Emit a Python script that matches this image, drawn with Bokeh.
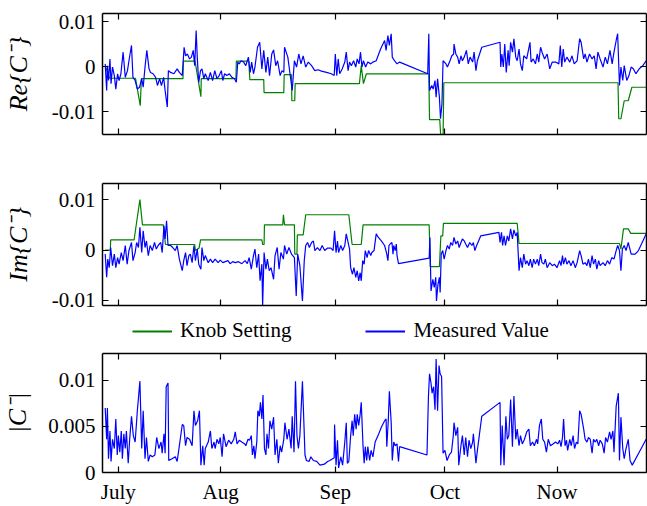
from bokeh.plotting import figure
from bokeh.models import Range1d, FixedTicker, LinearAxis, Legend, LegendItem
from bokeh.layouts import column
from bokeh.embed import file_html
from bokeh.resources import INLINE

# ---------------- data (x = days, y = value) ----------------
month_ticks = [3.0, 31.0, 62.4, 92.4, 123.1]
month_labels = ["July", "Aug", "Sep", "Oct", "Now"]

re_ticks = [-0.01, 0.0, 0.01]
re_tick_labels = ["-0.01", "0", "0.01"]
im_ticks = [-0.01, 0.0, 0.01]
im_tick_labels = ["-0.01", "0", "0.01"]
abs_ticks = [0.0, 0.005, 0.01]
abs_tick_labels = ["0", "0.005", "0.01"]

re_knob = [(-0.5, 0.0), (0.6, -0.0026), (7.7, -0.0026), (9.0, -0.0087), (9.3, -0.0027), (20.7, -0.0027),
           (20.8, 0.0012), (24.0, 0.0012), (25.6, -0.0067), (25.7, -0.0027), (35.2, -0.0027), (35.3, 0.0012),
           (38.7, 0.0012), (39.0, -0.0029), (42.8, -0.0029), (42.9, -0.0058), (48.3, -0.0058), (48.4, -0.0018),
           (50.4, -0.0018), (50.5, -0.0076), (51.3, -0.0076), (51.4, -0.0038), (69.0, -0.0038), (69.5, 0.0002),
           (70.1, -0.0038), (70.9, -0.0016), (88.0, -0.0016), (88.2, -0.0118), (91.0, -0.0118), (91.3, -0.016),
           (91.9, -0.016), (92.1, -0.0036), (139.8, -0.0036), (140.0, -0.0116), (140.6, -0.0116), (141.5, -0.0076),
           (142.6, -0.0076), (143.6, -0.0046), (147.5, -0.0046)]

re_measured = [(-0.6, 0.0006), (-0.2, -0.0053), (0.0, 0.0002), (0.3, -0.0031), (0.7, 0.0017), (1.0, -0.0038), (1.4, -0.0001), (1.9, -0.0020), (2.3, -0.0050), (2.8, -0.0016), (3.2, -0.0031), (3.7, -0.0016), (4.3, 0.0032), (4.9, -0.0024), (5.5, -0.0009), (5.9, 0.0013), (6.6, 0.0047), (7.0, -0.0024), (7.6, -0.0031), (8.2, -0.0050), (8.8, -0.0046), (9.4, -0.0027), (9.8, -0.0046), (10.3, -0.0001), (10.8, 0.0036), (11.4, -0.0005), (11.8, -0.0013), (12.5, -0.0016), (13.2, -0.0024), (13.7, -0.0042), (14.3, -0.0027), (14.8, -0.0042), (15.4, -0.0024), (15.8, -0.0053), (16.4, -0.0090), (16.7, -0.0009), (17.3, -0.0013), (18.2, -0.0016), (19.1, -0.0005), (19.7, -0.0013), (20.5, -0.0020), (21.0, 0.0043), (21.4, 0.0024), (21.9, 0.0028), (22.5, 0.0017), (23.0, 0.0021), (23.5, 0.0036), (23.9, 0.0002), (24.3, 0.0080), (24.6, 0.0021), (25.0, -0.0035), (25.5, -0.0009), (25.9, -0.0005), (26.4, -0.0027), (26.8, -0.0016), (27.6, -0.0031), (28.2, -0.0013), (28.8, -0.0031), (29.4, -0.0009), (30.0, -0.0027), (30.6, -0.0020), (31.2, -0.0009), (31.6, -0.0031), (32.1, -0.0016), (32.7, -0.0020), (33.4, -0.0016), (34.1, -0.0024), (34.8, -0.0027), (35.3, -0.0035), (35.7, 0.0010), (36.1, 0.0006), (36.6, 0.0013), (37.3, 0.0010), (37.9, 0.0002), (38.6, 0.0021), (39.1, -0.0013), (39.5, 0.0010), (40.0, -0.0016), (40.4, -0.0001), (41.1, 0.0043), (41.7, 0.0054), (42.3, -0.0005), (42.8, 0.0036), (43.4, -0.0013), (43.9, 0.0021), (44.4, -0.0020), (45.0, 0.0028), (45.5, 0.0037), (46.1, 0.0002), (46.6, 0.0013), (47.3, -0.0020), (47.8, -0.0009), (48.3, -0.0013), (48.5, 0.0043), (49.4, 0.0021), (50.0, -0.0016), (50.6, -0.0053), (51.2, 0.0013), (51.8, -0.0001), (52.4, 0.0028), (53.0, 0.0006), (53.6, 0.0024), (54.3, -0.0001), (55.0, 0.0010), (55.9, 0.0002), (56.8, -0.0009), (57.7, -0.0007), (58.6, -0.0010), (60.0, -0.0013), (61.3, -0.0016), (62.1, -0.0020), (62.4, 0.0028), (62.8, -0.0020), (63.2, 0.0017), (63.6, -0.0016), (64.3, -0.0005), (65.0, 0.0010), (65.4, 0.0032), (65.9, -0.0009), (66.3, 0.0010), (66.8, 0.0002), (67.4, 0.0013), (68.0, -0.0001), (68.4, 0.0017), (68.9, 0.0006), (69.3, 0.0032), (69.7, -0.0001), (70.1, 0.0013), (70.7, -0.0001), (71.3, 0.0010), (72.1, 0.0006), (72.7, 0.0010), (73.6, 0.0013), (74.8, 0.0039), (75.9, 0.0058), (76.3, 0.0036), (76.8, 0.0069), (77.2, 0.0047), (77.7, 0.0073), (78.0, 0.0021), (78.6, 0.0013), (79.3, 0.0006), (80.0, 0.0010), (87.7, -0.0016), (88.0, 0.0073), (88.2, -0.0053), (88.8, -0.0042), (89.2, -0.0050), (89.7, -0.0031), (90.0, -0.0068), (90.4, -0.0027), (90.9, -0.0068), (91.2, -0.0116), (91.6, -0.0083), (91.9, 0.0013), (92.7, 0.0006), (93.1, -0.0001), (93.8, 0.0013), (94.3, 0.0024), (94.8, 0.0028), (94.9, 0.0050), (95.4, 0.0028), (95.9, 0.0021), (96.3, 0.0006), (96.8, 0.0024), (97.2, 0.0013), (97.7, 0.0021), (98.3, 0.0036), (98.8, 0.0006), (99.3, 0.0021), (100.0, 0.0010), (100.4, 0.0032), (100.9, -0.0009), (101.3, 0.0013), (102.5, 0.0043), (107.5, 0.0054), (107.7, -0.0001), (108.0, 0.0028), (108.4, -0.0001), (108.8, 0.0050), (109.2, -0.0013), (109.7, 0.0036), (110.0, 0.0002), (110.4, 0.0054), (110.9, 0.0032), (111.3, 0.0062), (111.8, 0.0021), (112.2, 0.0013), (112.7, 0.0039), (113.1, 0.0006), (113.6, -0.0009), (114.0, 0.0024), (114.8, 0.0017), (115.7, 0.0054), (116.0, 0.0010), (116.6, 0.0017), (117.2, 0.0006), (117.7, 0.0028), (118.1, 0.0010), (118.6, 0.0043), (119.0, 0.0032), (119.7, 0.0017), (120.4, 0.0028), (121.1, -0.0005), (121.8, 0.0010), (122.7, 0.0010), (123.6, 0.0006), (124.0, 0.0047), (124.4, -0.0001), (124.8, 0.0039), (125.2, 0.0010), (125.8, 0.0021), (126.6, 0.0010), (127.2, 0.0024), (127.8, 0.0006), (128.6, 0.0013), (129.3, 0.0062), (129.7, 0.0054), (130.4, 0.0017), (130.8, 0.0028), (131.3, 0.0010), (132.0, 0.0028), (132.7, 0.0017), (133.3, 0.0024), (133.8, -0.0005), (134.3, 0.0032), (134.9, 0.0017), (135.7, -0.0001), (136.3, 0.0021), (136.9, 0.0006), (137.6, 0.0036), (138.2, 0.0006), (138.7, 0.0032), (139.3, 0.0058), (139.7, 0.0073), (140.2, -0.0042), (140.6, -0.0001), (141.1, -0.0031), (141.5, 0.0002), (142.2, -0.0031), (142.8, -0.0020), (143.4, -0.0001), (144.0, -0.0005), (144.7, -0.0016), (145.6, -0.0005), (146.6, 0.0002), (147.5, 0.0013)]

im_knob = [(-0.6, 0.0), (0.8, 0.0), (0.9, 0.0020), (7.3, 0.0020), (8.9, 0.0100), (9.6, 0.0050), (15.3, 0.0050),
           (15.9, 0.0011), (23.9, 0.0011), (24.1, -0.0001), (25.1, 0.0004), (25.5, 0.0020), (42.3, 0.0020),
           (42.5, 0.0011), (42.9, 0.0011), (43.0, 0.0050), (48.0, 0.0050), (48.2, 0.0070), (48.5, 0.0050),
           (51.2, 0.0050), (51.3, -0.0008), (51.9, -0.0008), (52.0, 0.0030), (53.6, 0.0030), (54.3, 0.0070),
           (66.1, 0.0070), (67.0, 0.0011), (69.5, 0.0011), (70.0, 0.0050), (88.1, 0.0050), (88.4, -0.0033),
           (90.9, -0.0033), (91.3, 0.0028), (91.8, 0.0028), (92.0, 0.0053), (112.2, 0.0053), (112.7, 0.0013),
           (140.2, 0.0013), (140.6, 0.0002), (141.3, 0.0042), (142.6, 0.0042), (143.3, 0.0033), (147.5, 0.0033)]

im_measured = [(-0.6, -0.0008), (-0.2, -0.0054), (0.1, -0.0018), (0.5, -0.0035), (0.9, 0.0005), (1.4, -0.0031), (1.9, -0.0008), (2.3, -0.0035), (2.8, -0.0015), (3.2, -0.0028), (3.8, -0.0005), (4.3, -0.0021), (4.9, 0.0009), (5.4, -0.0028), (5.9, -0.0001), (6.6, 0.0015), (7.0, -0.0021), (7.6, -0.0005), (8.0, 0.0015), (8.5, 0.0005), (8.9, 0.0045), (9.4, -0.0005), (9.8, 0.0038), (10.3, 0.0005), (10.7, 0.0018), (11.2, -0.0011), (11.7, 0.0009), (12.3, -0.0001), (12.9, 0.0015), (13.4, 0.0002), (13.9, 0.0009), (14.6, 0.0015), (15.0, -0.0005), (15.5, 0.0048), (15.8, 0.0022), (16.2, 0.0058), (16.6, 0.0009), (17.3, 0.0009), (17.9, 0.0005), (18.6, -0.0001), (19.1, 0.0009), (19.7, -0.0018), (20.5, -0.0041), (20.9, -0.0021), (21.4, -0.0005), (21.8, -0.0031), (22.3, -0.0011), (22.7, -0.0008), (23.2, -0.0025), (23.7, 0.0009), (24.1, -0.0021), (24.6, 0.0002), (25.0, -0.0028), (25.6, -0.0038), (25.9, 0.0005), (26.4, -0.0021), (26.8, -0.0011), (27.6, -0.0025), (28.2, -0.0018), (28.8, -0.0025), (29.5, -0.0018), (30.3, -0.0025), (30.9, -0.0020), (31.6, -0.0025), (32.3, -0.0023), (33.0, -0.0021), (33.6, -0.0027), (34.3, -0.0023), (35.0, -0.0025), (35.9, -0.0023), (36.8, -0.0027), (37.7, -0.0021), (38.3, -0.0027), (38.8, -0.0015), (39.4, -0.0038), (40.0, -0.0011), (40.4, 0.0002), (40.9, -0.0035), (41.4, -0.0008), (41.8, -0.0061), (42.3, -0.0028), (42.5, -0.0111), (42.9, -0.0005), (43.4, -0.0038), (43.8, -0.0018), (44.3, -0.0041), (44.8, -0.0035), (45.5, -0.0058), (45.9, -0.0011), (46.5, 0.0005), (47.0, -0.0038), (47.5, -0.0005), (48.2, -0.0018), (48.5, 0.0009), (49.1, -0.0008), (49.7, 0.0005), (50.4, -0.0008), (51.2, -0.0015), (51.7, -0.0091), (52.1, -0.0008), (52.7, -0.0031), (53.4, -0.0101), (53.9, -0.0021), (54.3, 0.0009), (54.8, 0.0015), (55.3, 0.0005), (55.9, 0.0015), (56.4, 0.0018), (56.8, -0.0001), (57.5, 0.0005), (58.2, -0.0001), (58.8, 0.0009), (59.5, -0.0001), (60.3, 0.0004), (61.2, 0.0004), (61.8, -0.0001), (62.2, 0.0038), (62.6, -0.0005), (63.0, 0.0018), (63.3, -0.0005), (63.9, 0.0009), (64.4, -0.0001), (65.0, 0.0009), (65.4, 0.0032), (65.9, 0.0015), (66.3, 0.0002), (66.6, -0.0035), (67.1, -0.0048), (67.5, -0.0035), (68.0, -0.0054), (68.4, -0.0041), (68.8, -0.0061), (69.2, -0.0045), (69.5, -0.0061), (69.9, -0.0021), (70.3, -0.0028), (70.6, -0.0001), (71.1, -0.0015), (71.5, -0.0001), (72.1, -0.0011), (72.4, -0.0005), (73.0, -0.0001), (73.6, 0.0032), (74.2, 0.0025), (75.0, 0.0018), (75.9, 0.0009), (76.5, -0.0008), (76.8, -0.0021), (77.1, 0.0009), (77.4, 0.0012), (77.9, 0.0015), (78.2, -0.0008), (78.4, 0.0009), (78.8, -0.0001), (79.1, 0.0012), (79.3, -0.0011), (79.7, -0.0027), (88.1, -0.0016), (88.3, 0.0025), (88.6, -0.0081), (89.1, -0.0058), (89.5, -0.0074), (89.9, -0.0054), (90.1, -0.0101), (90.5, -0.0068), (90.9, -0.0054), (91.1, -0.0084), (91.4, -0.0008), (91.8, -0.0001), (92.2, -0.0018), (92.7, -0.0001), (93.1, 0.0009), (93.6, 0.0002), (94.0, 0.0015), (94.5, 0.0009), (94.9, 0.0025), (95.4, 0.0012), (95.9, 0.0018), (96.3, 0.0005), (96.8, 0.0015), (97.2, 0.0022), (97.7, 0.0018), (98.1, 0.0012), (98.6, 0.0005), (99.2, 0.0015), (99.8, 0.0009), (100.2, 0.0015), (100.6, -0.0001), (101.1, 0.0009), (102.2, 0.0028), (107.2, 0.0035), (107.5, 0.0015), (107.9, 0.0035), (108.2, 0.0009), (108.6, 0.0028), (109.0, 0.0009), (109.5, 0.0028), (109.9, 0.0018), (110.4, 0.0042), (110.9, 0.0022), (111.3, 0.0040), (111.8, 0.0028), (112.2, 0.0035), (112.7, -0.0041), (113.1, -0.0015), (113.6, -0.0035), (114.0, -0.0008), (114.5, -0.0028), (114.9, -0.0021), (115.4, -0.0031), (115.8, -0.0018), (116.3, -0.0035), (116.7, -0.0018), (117.2, -0.0028), (117.7, -0.0018), (118.1, -0.0031), (118.6, -0.0008), (119.0, -0.0025), (119.5, -0.0028), (119.9, -0.0018), (120.4, -0.0035), (121.1, -0.0025), (121.8, -0.0031), (122.4, -0.0028), (123.1, -0.0035), (123.8, -0.0021), (124.2, -0.0031), (124.6, -0.0011), (124.9, -0.0028), (125.4, -0.0015), (125.8, -0.0028), (126.4, -0.0021), (126.9, -0.0031), (127.5, -0.0021), (128.1, -0.0035), (128.6, -0.0025), (129.3, -0.0001), (129.7, -0.0011), (130.2, -0.0028), (130.8, -0.0025), (131.3, -0.0031), (131.7, -0.0018), (132.2, -0.0035), (132.7, -0.0011), (133.1, -0.0028), (133.6, -0.0018), (134.0, -0.0038), (134.5, -0.0021), (134.9, -0.0031), (135.7, -0.0025), (136.3, -0.0031), (136.9, -0.0021), (137.5, -0.0028), (138.1, -0.0015), (138.7, -0.0018), (139.3, -0.0001), (139.7, 0.0009), (140.2, -0.0001), (140.6, -0.0041), (141.0, 0.0002), (141.5, 0.0009), (142.0, -0.0001), (142.6, 0.0015), (143.4, -0.0008), (144.5, -0.0008), (145.4, -0.0001), (147.5, 0.0032)]

abs_measured = [(-0.6, 0.0070), (-0.2, 0.0036), (0.0, 0.0070), (0.3, 0.0015), (0.7, 0.0045), (1.0, 0.0012), (1.4, 0.0036), (1.9, 0.0026), (2.3, 0.0058), (2.7, 0.0019), (3.0, 0.0040), (3.4, 0.0022), (3.8, 0.0045), (4.1, 0.0015), (4.5, 0.0042), (4.9, 0.0026), (5.2, 0.0045), (5.7, 0.0010), (6.1, 0.0036), (6.6, 0.0061), (7.1, 0.0040), (7.6, 0.0033), (8.2, 0.0067), (8.9, 0.0099), (9.4, 0.0026), (9.8, 0.0067), (10.3, 0.0015), (10.7, 0.0038), (11.2, 0.0012), (11.7, 0.0019), (12.3, 0.0017), (13.0, 0.0019), (13.5, 0.0038), (14.1, 0.0026), (14.7, 0.0033), (15.0, 0.0021), (15.5, 0.0042), (15.8, 0.0021), (16.1, 0.0093), (16.6, 0.0097), (16.8, 0.0013), (17.7, 0.0015), (18.6, 0.0017), (19.1, 0.0012), (19.7, 0.0029), (20.5, 0.0052), (20.9, 0.0051), (21.4, 0.0029), (21.8, 0.0038), (22.5, 0.0036), (23.2, 0.0029), (23.7, 0.0067), (24.1, 0.0051), (24.7, 0.0056), (25.2, 0.0067), (25.6, 0.0008), (26.1, 0.0029), (26.5, 0.0008), (26.8, 0.0026), (27.6, 0.0033), (28.2, 0.0045), (28.6, 0.0026), (29.2, 0.0033), (29.5, 0.0026), (30.0, 0.0036), (30.5, 0.0031), (30.9, 0.0038), (31.4, 0.0017), (31.8, 0.0042), (32.5, 0.0028), (33.2, 0.0035), (33.9, 0.0031), (34.6, 0.0036), (35.0, 0.0044), (35.5, 0.0031), (36.1, 0.0035), (36.8, 0.0033), (37.6, 0.0031), (37.9, 0.0029), (38.5, 0.0036), (38.9, 0.0035), (39.4, 0.0040), (39.7, 0.0019), (40.1, 0.0029), (40.4, 0.0015), (40.9, 0.0033), (41.2, 0.0067), (41.6, 0.0061), (41.9, 0.0076), (42.3, 0.0058), (42.6, 0.0084), (43.0, 0.0026), (43.4, 0.0019), (43.7, 0.0042), (44.1, 0.0026), (44.5, 0.0056), (45.0, 0.0047), (45.5, 0.0060), (45.9, 0.0019), (46.4, 0.0036), (46.8, 0.0010), (47.3, 0.0029), (47.7, 0.0022), (48.3, 0.0036), (48.6, 0.0054), (49.2, 0.0036), (49.7, 0.0047), (50.3, 0.0026), (50.6, 0.0061), (51.1, 0.0022), (51.5, 0.0099), (51.9, 0.0040), (52.3, 0.0026), (52.7, 0.0040), (53.4, 0.0099), (54.1, 0.0019), (54.5, 0.0013), (55.2, 0.0012), (55.7, 0.0017), (56.4, 0.0013), (57.3, 0.0012), (58.2, 0.0008), (59.4, 0.0009), (60.3, 0.0012), (60.9, 0.0013), (62.1, 0.0016), (62.2, 0.0052), (62.6, 0.0008), (63.0, 0.0035), (63.3, 0.0005), (63.9, 0.0017), (64.4, 0.0008), (65.0, 0.0033), (65.4, 0.0054), (65.7, 0.0010), (66.1, 0.0012), (66.6, 0.0040), (67.0, 0.0056), (67.3, 0.0040), (67.7, 0.0063), (68.1, 0.0047), (68.4, 0.0063), (68.8, 0.0051), (69.2, 0.0063), (69.5, 0.0076), (70.0, 0.0028), (70.3, 0.0010), (70.6, 0.0028), (71.0, 0.0013), (71.3, 0.0028), (71.8, 0.0013), (72.2, 0.0024), (72.7, 0.0017), (73.3, 0.0033), (74.1, 0.0040), (75.0, 0.0049), (75.9, 0.0056), (76.3, 0.0058), (76.5, 0.0028), (76.9, 0.0056), (77.2, 0.0088), (77.7, 0.0054), (78.0, 0.0013), (78.4, 0.0033), (78.8, 0.0029), (79.3, 0.0031), (79.7, 0.0012), (80.0, 0.0028), (87.5, 0.0019), (87.9, 0.0083), (88.2, 0.0107), (88.6, 0.0097), (88.9, 0.0086), (89.3, 0.0093), (89.7, 0.0068), (90.0, 0.0123), (90.4, 0.0067), (90.8, 0.0116), (91.1, 0.0107), (91.5, 0.0104), (91.9, 0.0021), (92.4, 0.0024), (93.0, 0.0013), (93.6, 0.0019), (94.2, 0.0022), (94.7, 0.0040), (94.9, 0.0054), (95.4, 0.0040), (95.9, 0.0049), (96.2, 0.0008), (96.8, 0.0029), (97.2, 0.0040), (97.7, 0.0019), (98.1, 0.0038), (98.6, 0.0017), (99.0, 0.0035), (99.5, 0.0026), (100.0, 0.0033), (100.2, 0.0042), (100.6, 0.0024), (100.9, 0.0010), (101.3, 0.0024), (102.5, 0.0061), (107.5, 0.0076), (107.7, 0.0008), (108.1, 0.0051), (108.6, 0.0008), (109.1, 0.0061), (109.5, 0.0036), (109.9, 0.0040), (110.4, 0.0079), (110.9, 0.0028), (111.3, 0.0083), (111.8, 0.0036), (112.2, 0.0047), (112.7, 0.0029), (113.1, 0.0040), (113.6, 0.0031), (114.2, 0.0036), (114.8, 0.0044), (115.4, 0.0047), (115.8, 0.0029), (116.4, 0.0033), (116.9, 0.0029), (117.5, 0.0036), (117.8, 0.0031), (118.3, 0.0051), (118.8, 0.0058), (119.2, 0.0036), (119.7, 0.0033), (120.2, 0.0022), (120.7, 0.0036), (121.3, 0.0029), (122.0, 0.0031), (122.7, 0.0033), (123.3, 0.0031), (123.8, 0.0035), (124.2, 0.0028), (124.6, 0.0038), (124.9, 0.0058), (125.3, 0.0029), (125.7, 0.0035), (126.0, 0.0024), (126.6, 0.0036), (127.0, 0.0029), (127.5, 0.0040), (127.9, 0.0026), (128.4, 0.0033), (128.8, 0.0031), (129.3, 0.0067), (129.7, 0.0063), (130.4, 0.0047), (130.8, 0.0036), (131.3, 0.0033), (131.7, 0.0038), (132.2, 0.0036), (132.7, 0.0021), (133.1, 0.0036), (133.6, 0.0033), (134.0, 0.0036), (134.5, 0.0029), (134.9, 0.0035), (135.5, 0.0031), (136.0, 0.0021), (136.4, 0.0038), (136.9, 0.0033), (137.5, 0.0044), (137.9, 0.0036), (138.4, 0.0045), (138.7, 0.0022), (139.3, 0.0072), (139.9, 0.0086), (140.2, 0.0013), (140.6, 0.0060), (141.1, 0.0026), (141.5, 0.0015), (142.0, 0.0026), (142.6, 0.0036), (143.1, 0.0013), (143.7, 0.0008), (145.6, 0.0022), (147.5, 0.0036)]

# ---------------- styling ----------------
FONT = "Liberation Serif"
LEGEND_FONT = "serif"
GREEN = "#008000"
BLUE = "#0000ff"
X_RANGE = (-1.34, 147.6)
W = 647


def style_axis(ax, ticks, labels, show):
    ax.ticker = FixedTicker(ticks=ticks)
    ax.major_label_overrides = {t: l for t, l in zip(ticks, labels)}
    ax.major_tick_in = 6
    ax.major_tick_out = 0
    ax.minor_tick_line_color = None
    ax.axis_line_width = 1.5
    ax.axis_line_color = "black"
    ax.major_tick_line_width = 1.2
    ax.major_tick_line_color = "black"
    if show:
        ax.major_label_text_font = FONT
        ax.major_label_text_font_size = "21px"
        ax.major_label_text_color = "black"
        ax.major_label_standoff = 7
    else:
        ax.major_label_text_font_size = "1px"
        ax.major_label_text_color = None
        ax.major_label_standoff = 0


def make_panel(height, top, bottom, yr, yticks, ylabels, ylabel, label_standoff, show_x):
    p = figure(width=W, height=height, x_range=Range1d(*X_RANGE), y_range=Range1d(*yr),
               x_axis_location=None, y_axis_location=None,
               output_backend="svg", toolbar_location=None,
               min_border_left=100, min_border_right=1, min_border_top=top, min_border_bottom=bottom)
    p.outline_line_color = None
    p.background_fill_color = "white"
    p.border_fill_color = "white"
    p.xgrid.visible = False
    p.ygrid.visible = False

    left = LinearAxis()
    style_axis(left, yticks, ylabels, True)
    left.axis_label = ylabel
    left.axis_label_text_font = FONT
    left.axis_label_text_font_style = "italic"
    left.axis_label_text_font_size = "26px"
    left.axis_label_text_color = "black"
    left.axis_label_standoff = label_standoff
    p.add_layout(left, "left")

    right = LinearAxis()
    style_axis(right, yticks, ylabels, False)
    p.add_layout(right, "right")

    top_ax = LinearAxis()
    style_axis(top_ax, month_ticks, month_labels, False)
    p.add_layout(top_ax, "above")

    bottom_ax = LinearAxis()
    style_axis(bottom_ax, month_ticks, month_labels, show_x)
    p.add_layout(bottom_ax, "below")
    return p


def split(pairs):
    return [a for a, _ in pairs], [b for _, b in pairs]


# panel 1: Re{C-}
p1 = make_panel(160, 13, 26, (-0.0151, 0.0118), re_ticks, re_tick_labels, "Re{C⁻}", 16, False)
x, y = split(re_knob)
p1.line(x, y, line_color=GREEN, line_width=1.2)
x, y = split(re_measured)
p1.line(x, y, line_color=BLUE, line_width=1.2)

# panel 2: Im{C-}
p2 = make_panel(157, 23, 12, (-0.0110, 0.0132), im_ticks, im_tick_labels, "Im{C⁻}", 16, False)
x, y = split(im_knob)
p2.line(x, y, line_color=GREEN, line_width=1.2)
x, y = split(im_measured)
p2.line(x, y, line_color=BLUE, line_width=1.2)

# legend strip: same two series, drawn with a y window that keeps them out of view,
# only their legend entries show
pl = figure(width=W, height=33, x_range=Range1d(*X_RANGE), y_range=Range1d(1.0, 2.0),
            x_axis_location=None, y_axis_location=None,
            output_backend="svg", toolbar_location=None,
            min_border_left=100, min_border_right=1, min_border_top=0, min_border_bottom=0)
pl.outline_line_color = None
pl.xgrid.visible = False
pl.ygrid.visible = False
x, y = split(im_knob)
lg = pl.line(x, y, line_color=GREEN, line_width=2)
x, y = split(im_measured)
lb = pl.line(x, y, line_color=BLUE, line_width=2)
legend = Legend(items=[LegendItem(label="Knob Setting", renderers=[lg]),
                       LegendItem(label="Measured Value", renderers=[lb])],
                orientation="horizontal", location=(30, 7),
                border_line_color=None, background_fill_alpha=0,
                glyph_width=40, glyph_height=20, label_standoff=8, spacing=74,
                padding=0, margin=0)
legend.label_text_font = LEGEND_FONT
legend.label_text_font_size = "21px"
legend.label_text_font_style = "normal"
legend.label_text_color = "black"
pl.add_layout(legend, "center")

# panel 3: |C-|
p3 = make_panel(156, 3, 32, (0.0, 0.0129), abs_ticks, abs_tick_labels, "|C⁻|", 13, True)
x, y = split(abs_measured)
p3.line(x, y, line_color=BLUE, line_width=1.2)

layout = column(p1, p2, pl, p3)
open("out.html", "w").write(file_html(layout, INLINE))
